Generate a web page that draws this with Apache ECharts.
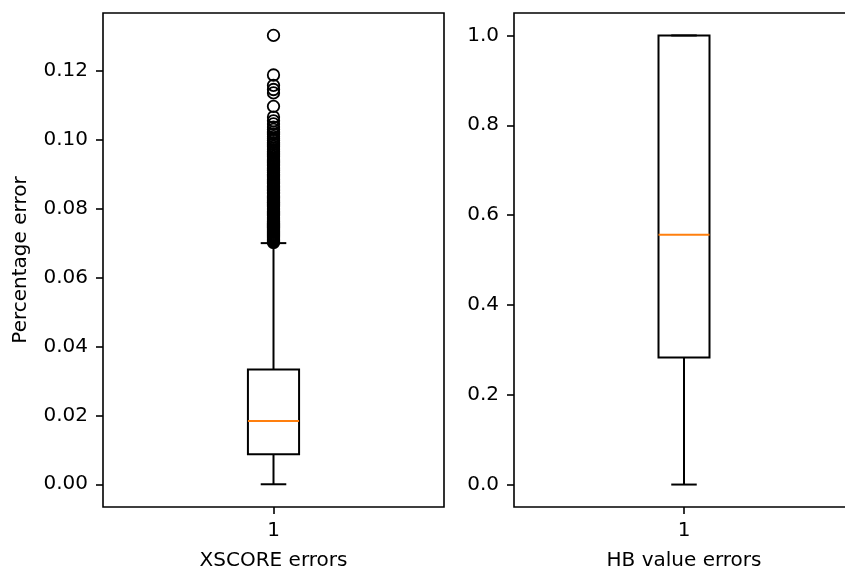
<!DOCTYPE html>
<html>
<head>
<meta charset="utf-8">
<title>XSCORE and HB value errors</title>
<script src="https://cdn.jsdelivr.net/npm/echarts@6/dist/echarts.min.js"></script>
<style>
  html, body { margin: 0; padding: 0; background: #fff; }
  #chart { width: 845px; height: 570px; }
</style>
</head>
<body>
<div id="chart"></div>
<script>
// Box position on each x axis
const positions = [1];

// Box statistics: [lower whisker, Q1, median, Q3, upper whisker]
const xscoreBox = [0.0, 0.0087, 0.0184, 0.0333, 0.0700];
const hbBox = [0.0, 0.283, 0.556, 1.0, 1.0];

// XSCORE values beyond the upper whisker
const xscoreOutliers = [
  0.1303, 0.1188, 0.1158, 0.1146, 0.1136, 0.1097, 0.1066, 0.1055, 0.1046, 0.1037,
  0.1030, 0.1022, 0.1016, 0.1009, 0.1003, 0.0998, 0.0992, 0.0987, 0.0981, 0.0976,
  0.0971, 0.0966, 0.0961, 0.0957, 0.0952, 0.0947, 0.0942, 0.0938, 0.0934, 0.0929,
  0.0925, 0.0921, 0.0917, 0.0913, 0.0909, 0.0905, 0.0901, 0.0897, 0.0893, 0.0889,
  0.0885, 0.0881, 0.0877, 0.0873, 0.0869, 0.0866, 0.0862, 0.0858, 0.0855, 0.0851,
  0.0847, 0.0844, 0.0840, 0.0837, 0.0833, 0.0830, 0.0826, 0.0823, 0.0819, 0.0816,
  0.0812, 0.0809, 0.0806, 0.0802, 0.0799, 0.0796, 0.0792, 0.0789, 0.0786, 0.0783,
  0.0780, 0.0776, 0.0773, 0.0770, 0.0767, 0.0764, 0.0761, 0.0758, 0.0755, 0.0752,
  0.0749, 0.0746, 0.0743, 0.0740, 0.0737, 0.0734, 0.0731, 0.0728, 0.0725, 0.0722,
  0.0719, 0.0716, 0.0713, 0.0710, 0.0707, 0.0704, 0.0702
];

// Tick values
const xscoreTicks = [0.00, 0.02, 0.04, 0.06, 0.08, 0.10, 0.12];
const hbTicks = [0.0, 0.2, 0.4, 0.6, 0.8, 1.0];
const xTicks = [1];

// Axis texts
const xscoreName = 'XSCORE errors';
const hbName = 'HB value errors';
const yName = 'Percentage error';

const FONT = 'DejaVu Sans';
const BOX_WIDTH = 0.15;   // in x-axis units
const MEDIAN_COLOR = '#ff7f0e';

function renderBox(params, api) {
  const x = api.value(0);
  const lo = api.value(1), q1 = api.value(2), med = api.value(3),
        q3 = api.value(4), hi = api.value(5);
  const w = api.size([BOX_WIDTH, 0])[0];
  const cx = api.coord([x, 0])[0];
  const py = v => api.coord([x, v])[1];
  const stroke = { stroke: '#000', lineWidth: 2, fill: null };
  const line = (x1, y1, x2, y2, style) => ({
    type: 'line', shape: { x1, y1, x2, y2 }, style: style || stroke
  });
  return {
    type: 'group',
    children: [
      line(cx, py(lo), cx, py(q1)),
      line(cx, py(q3), cx, py(hi)),
      line(cx - w / 4, py(lo), cx + w / 4, py(lo)),
      line(cx - w / 4, py(hi), cx + w / 4, py(hi)),
      { type: 'rect', shape: { x: cx - w / 2, y: py(q3), width: w, height: py(q1) - py(q3) },
        style: { stroke: '#000', lineWidth: 2, fill: 'rgba(0,0,0,0)' } },
      line(cx - w / 2, py(med), cx + w / 2, py(med), { stroke: MEDIAN_COLOR, lineWidth: 2 })
    ]
  };
}

const textStyle = { fontFamily: FONT, fontSize: 20, color: '#000' };

function makeXAxis(gridIndex, name) {
  return {
    gridIndex, type: 'value', min: 0.5, max: 1.5, position: 'bottom',
    name, nameLocation: 'middle', nameGap: 44,
    nameTextStyle: textStyle,
    axisLine: { show: false, onZero: false },
    splitLine: { show: false },
    axisTick: { show: true, customValues: xTicks, length: 7, lineStyle: { color: '#000', width: 1.6 } },
    axisLabel: { customValues: xTicks, margin: 14, formatter: v => String(v), ...textStyle }
  };
}

function makeYAxis(gridIndex, min, max, ticks, digits, name) {
  const axis = {
    gridIndex, type: 'value', min, max, position: 'left',
    axisLine: { show: false, onZero: false },
    splitLine: { show: false },
    axisTick: { show: true, customValues: ticks, length: 7, lineStyle: { color: '#000', width: 1.6 } },
    axisLabel: { customValues: ticks, margin: 15, formatter: v => v.toFixed(digits), ...textStyle }
  };
  if (name) {
    axis.name = name;
    axis.nameLocation = 'middle';
    axis.nameGap = 72;
    axis.nameTextStyle = textStyle;
  }
  return axis;
}

const gridStyle = {
  show: true, borderColor: '#000', borderWidth: 1.6, backgroundColor: 'transparent',
  containLabel: false, outerBoundsMode: 'none'
};

const chart = echarts.init(document.getElementById('chart'), null, { renderer: 'canvas' });
chart.setOption({
  animation: false,
  backgroundColor: '#fff',
  grid: [
    { left: 103, top: 13, width: 341, height: 494, ...gridStyle },
    { left: 514, top: 13, width: 340, height: 494, ...gridStyle }
  ],
  xAxis: [makeXAxis(0, xscoreName), makeXAxis(1, hbName)],
  yAxis: [
    makeYAxis(0, -0.0066, 0.1368, xscoreTicks, 2, yName),
    makeYAxis(1, -0.05, 1.05, hbTicks, 1)
  ],
  series: [
    {
      type: 'custom', xAxisIndex: 0, yAxisIndex: 0,
      renderItem: renderBox,
      encode: { x: 0, y: [1, 2, 3, 4, 5] },
      data: positions.map(p => [p, ...xscoreBox])
    },
    {
      type: 'scatter', xAxisIndex: 0, yAxisIndex: 0,
      symbol: 'circle', symbolSize: 11.5,
      itemStyle: { color: 'rgba(0,0,0,0)', borderColor: '#000', borderWidth: 1.8, opacity: 1 },
      data: xscoreOutliers.map(v => [positions[0], v])
    },
    {
      type: 'custom', xAxisIndex: 1, yAxisIndex: 1,
      renderItem: renderBox,
      encode: { x: 0, y: [1, 2, 3, 4, 5] },
      data: positions.map(p => [p, ...hbBox])
    }
  ]
});
</script>
</body>
</html>
